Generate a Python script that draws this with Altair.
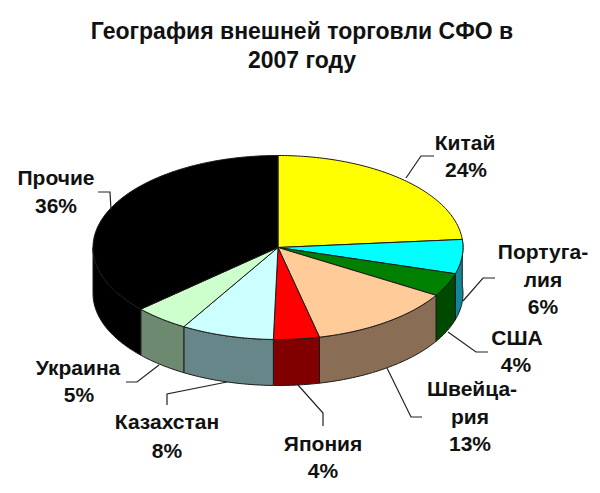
import math
import altair as alt
import pandas as pd

# the printed labels are the rounded values.
names = ["Китай", "Португалия", "США", "Швейцария", "Япония", "Казахстан", "Украина", "Прочие"]
shares = [23.6, 6.0, 4.1, 12.7, 4.0, 8.1, 4.8, 36.7]
top_colors = ["#ffff00", "#00ffff", "#008000", "#ffcc99", "#ff0000", "#ccffff", "#ccffcc", "#000000"]
wall_colors = ["#8a8a00", "#11879a", "#004a00", "#8a6d55", "#800000", "#66868a", "#6d8a70", "#000000"]

# Texts (line, x, y in picture pixels)
label_lines = [
    ("Китай", 465, 144), ("24%", 466, 171),
    ("Португа-", 543, 253), ("лия", 543, 281), ("6%", 543, 308),
    ("США", 517, 339), ("4%", 516, 366),
    ("Швейца-", 472, 390), ("рия", 470, 418), ("13%", 470, 445),
    ("Япония", 323, 445), ("4%", 323, 472),
    ("Казахстан", 167, 423), ("8%", 167, 452),
    ("Украина", 78, 369), ("5%", 79, 396),
    ("Прочие", 56, 179), ("36%", 56, 207),
]
title_lines = [("География внешней торговли СФО в", 302, 32), ("2007 году", 302, 61)]

# Leader lines
leaders = [
    [(406, 178), (421, 156), (434, 156)],
    [(463, 301), (483, 278), (495, 278)],
    [(448, 332), (476, 352), (488, 352)],
    [(387, 368), (411, 417), (422, 417)],
    [(298, 385), (323, 413), (323, 426)],
    [(227, 382), (167, 394), (167, 405)],
    [(159, 365), (137, 382), (126, 382)],
    [(111, 210), (110, 192), (98, 192)],
]

CX, CY, RX, RY, DEPTH = 278, 247.5, 185, 92, 46


def ellipse(deg, dy=0.0):
    r = math.radians(deg)
    return CX + RX * math.sin(r), CY - RY * math.cos(r) + dy


def arc_angles(a, b, step=1.0):
    out = [a]
    t = a + step
    while t < b:
        out.append(t)
        t += step
    out.append(b)
    return out


top_rows, wall_rows = [], []
start = 0.0
for name, share in zip(names, shares):
    end = start + share * 3.6
    pts = [(CX, CY)] + [ellipse(t) for t in arc_angles(start, end)] + [(CX, CY)]
    for i, (x, y) in enumerate(pts):
        top_rows.append({"name": name, "i": i, "x": x, "y": y})
    a, b = max(start, 85.0), min(end, 270.0)
    if a < b:
        ts = arc_angles(a, b)
        w = [ellipse(t) for t in ts] + [ellipse(t, DEPTH) for t in reversed(ts)]
        w.append(w[0])
        for i, (x, y) in enumerate(w):
            wall_rows.append({"name": name, "i": i, "x": x, "y": y})
    start = end

leader_rows = [
    {"k": k, "i": i, "x": x, "y": y}
    for k, line in enumerate(leaders)
    for i, (x, y) in enumerate(line)
]
label_df = pd.DataFrame(label_lines, columns=["t", "x", "y"])
title_df = pd.DataFrame(title_lines, columns=["t", "x", "y"])

xs = alt.Scale(domain=[8, 592], zero=False, nice=False)
ys = alt.Scale(domain=[485, 8], zero=False, nice=False)
X = alt.X("x:Q", scale=xs, axis=None)
Y = alt.Y("y:Q", scale=ys, axis=None)


def poly(rows, colors):
    return (
        alt.Chart(pd.DataFrame(rows))
        .mark_line(stroke="#1a1a1a", strokeWidth=1, strokeJoin="round")
        .encode(
            x=X,
            y=Y,
            order="i:Q",
            fill=alt.Fill("name:N", scale=alt.Scale(domain=names, range=colors), legend=None),
        )
    )


walls = poly(wall_rows, wall_colors)
tops = poly(top_rows, top_colors)
lead = (
    alt.Chart(pd.DataFrame(leader_rows))
    .mark_line(color="#222222", strokeWidth=1.2)
    .encode(x=X, y=Y, order="i:Q", detail="k:N")
)
labels = (
    alt.Chart(label_df)
    .mark_text(font="Liberation Sans", fontWeight="bold", fontSize=21, color="#111111",
               align="center", baseline="middle")
    .encode(x=X, y=Y, text="t:N")
)
titles = (
    alt.Chart(title_df)
    .mark_text(font="Liberation Sans", fontWeight="bold", fontSize=23, color="#111111",
               align="center", baseline="middle")
    .encode(x=X, y=Y, text="t:N")
)

chart = (
    alt.layer(walls, tops, lead, labels, titles)
    .resolve_scale(fill="independent")
    .properties(width=584, height=477, padding=0, background="white")
    .configure_view(stroke=None)
)
chart.save("out.html", embed_options={"renderer": "svg", "actions": False})
